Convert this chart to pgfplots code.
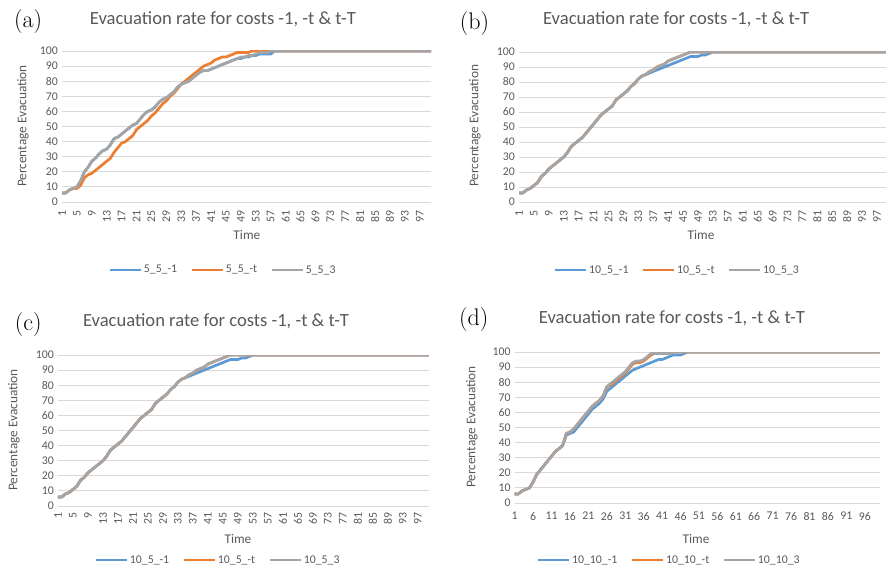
\documentclass[border=0pt]{standalone}
\usepackage{pgfplots}
\pgfplotsset{compat=1.18}
\usepackage{pgfplotstable}
\usepackage{fontspec}
\newfontfamily\calib{Carlito}
\definecolor{xblue}{HTML}{5B9BD5}
\definecolor{xorange}{HTML}{ED7D31}
\definecolor{xgray}{HTML}{A5A5A5}
\definecolor{txt}{HTML}{595959}
\definecolor{grd}{HTML}{D9D9D9}

\pgfplotstableread{
t m1 mt m3
1 6 6 6
2 6 6 6
3 8 8 8
4 9 9 9
5 10 9 10
6 14 11 14
7 20 16 20
8 23 18 23
9 27 19 27
10 29 21 29
11 32 23 32
12 34 25 34
13 35 27 35
14 38 29 38
15 42 33 42
16 43 36 43
17 45 39 45
18 47 40 47
19 49 42 49
20 51 44 51
21 52 48 52
22 55 50 55
23 58 52 58
24 60 54 60
25 61 57 61
26 63 59 63
27 66 62 66
28 68 65 68
29 69 67 69
30 71 70 71
31 73 72 73
32 76 75 76
33 78 78 78
34 79 80 79
35 80 82 80
36 82 84 82
37 84 86 84
38 86 88 86
39 87 90 87
40 87 91 87
41 88 92 88
42 89 94 89
43 90 95 90
44 91 96 91
45 92 96 92
46 93 97 93
47 94 98 94
48 95 99 95
49 95 99 96
50 96 99 96
51 96 99 97
52 97 100 97
53 97 100 98
54 98 100 99
55 98 100 99
56 98 100 99
57 98 100 100
58 100 100 100
59 100 100 100
60 100 100 100
70 100 100 100
80 100 100 100
90 100 100 100
100 100 100 100
}\tabA

\pgfplotstableread{
t m1 mt m3
1 6 6 6
2 6 6 6
3 8 8 8
4 9 9 9
5 11 11 11
6 13 13 13
7 17 17 17
8 19 19 19
9 22 22 22
10 24 24 24
11 26 26 26
12 28 28 28
13 30 30 30
14 33 33 33
15 37 37 37
16 39 39 39
17 41 41 41
18 43 43 43
19 46 46 46
20 49 49 49
21 52 52 52
22 55 55 55
23 58 58 58
24 60 60 60
25 62 62 62
26 64 64 64
27 68 68 68
28 70 70 70
29 72 72 72
30 74 74 74
31 77 77 77
32 79 79 79
33 82 82 82
34 84 84 84
35 85 85 85
36 86 87 87
37 87 88 88
38 88 90 90
39 89 91 91
40 90 92 92
41 91 94 94
42 92 95 95
43 93 96 96
44 94 97 97
45 95 98 98
46 96 99 99
47 97 100 100
48 97 100 100
49 97 100 100
50 98 100 100
51 98 100 100
52 99 100 100
53 100 100 100
54 100 100 100
60 100 100 100
70 100 100 100
80 100 100 100
90 100 100 100
100 100 100 100
}\tabB

\pgfplotstableread{
t m1 mt m3
1 6 6 6
2 6 6 6
3 8 8 8
4 9 9 9
5 10 10 10
6 14 14 14
7 19 19 19
8 22 22 22
9 25 25 25
10 28 28 28
11 31 31 31
12 34 34 34
13 36 36 36
14 38 38 38
15 45 46 46
16 46 47 47
17 47 49 49
18 50 52 52
19 53 55 55
20 56 58 58
21 59 61 61
22 62 64 64
23 64 66 66
24 66 68 68
25 69 71 71
26 74 77 77
27 76 78 79
28 78 80 81
29 80 82 83
30 82 84 85
31 84 86 87
32 86 89 90
33 88 92 93
34 89 93 94
35 90 93 94
36 91 94 95
37 92 96 97
38 93 98 99
39 94 99 99
40 95 99 99
41 95 99 99
42 96 99 99
43 97 100 99
44 98 100 100
45 98 100 100
46 98 100 100
47 99 100 100
48 100 100 100
49 100 100 100
50 100 100 100
60 100 100 100
70 100 100 100
80 100 100 100
90 100 100 100
100 100 100 100
}\tabD

\pgfplotsset{
  exc/.style={
    scale only axis, xmin=1, xmax=100, ymin=0, ymax=100,
    ytick={0,10,...,100},
    ymajorgrids, grid style={color=grd, line width=0.9pt},
    axis line style={draw=none}, major tick length=0pt,
    /pgf/number format/assume math mode=true,
    tick label style={font=\calib\fontsize{11.8}{13}\selectfont, text=txt},
    yticklabel style={anchor=east, inner xsep=4pt, inner ysep=0pt},
    every axis plot/.append style={line width=2.7pt, line join=round, mark=none},
    legend columns=3,
    legend style={draw=none, fill=none, font=\calib\fontsize{11.8}{13}\selectfont, text=txt, anchor=center, inner sep=0pt,
      /tikz/every even column/.append style={column sep=11pt}},
    legend image code/.code={\draw[##1, line width=2.7pt] (0pt,0pt) -- (31pt,0pt);},
    title style={anchor=center, font=\calib\fontsize{18.6}{22}\selectfont, text=txt},
    xlabel style={anchor=center, font=\calib\fontsize{13.3}{15}\selectfont, text=txt},
    ylabel style={anchor=center, font=\calib\fontsize{13.3}{15}\selectfont, text=txt},
    title={Evacuation rate for costs -1, -t \& t-T},
    xlabel={Time}, ylabel={Percentage Evacuation},
  },
  rot/.style={xtick={1,5,...,97}, xticklabel style={rotate=90, anchor=east, inner xsep=#1, inner ysep=0pt}},
}

\begin{document}
\begin{tikzpicture}
\useasboundingbox (0pt,0pt) rectangle (886pt,568pt);

% (a)
\begin{axis}[exc, rot=8pt, at={(62pt,366pt)}, anchor=south west, width=369pt, height=151pt,
  title style={at={(axis description cs:0.436,1.172)}},
  xlabel style={at={(axis description cs:0.501,-0.219)}},
  ylabel style={at={(axis description cs:-0.106,0.503)}},
  legend style={at={(axis description cs:0.436,-0.450)}},
  extra description/.code={\node[font=\fontsize{24}{28}\selectfont] at (axis description cs:-0.092,1.192) {(a)};}]
\addplot[xblue] table[x=t,y=m1] {\tabA};
\addplot[xorange] table[x=t,y=mt] {\tabA};
\addplot[xgray] table[x=t,y=m3] {\tabA};
\addlegendentry{5\_5\_-1}
\addlegendentry{5\_5\_-t}
\addlegendentry{5\_5\_3}
\end{axis}

% (b)
\begin{axis}[exc, rot=8pt, at={(519pt,366pt)}, anchor=south west, width=367pt, height=150pt, xmax=99.42,
  title style={at={(axis description cs:0.428,1.18)}},
  xlabel style={at={(axis description cs:0.496,-0.22)}},
  ylabel style={at={(axis description cs:-0.120,0.507)}},
  legend style={at={(axis description cs:0.431,-0.453)}},
  extra description/.code={\node[font=\fontsize{24}{28}\selectfont] at (axis description cs:-0.121,1.187) {(b)};}]
\addplot[xblue] table[x=t,y=m1] {\tabB};
\addplot[xorange] table[x=t,y=mt] {\tabB};
\addplot[xgray] table[x=t,y=m3] {\tabB};
\addlegendentry{10\_5\_-1}
\addlegendentry{10\_5\_-t}
\addlegendentry{10\_5\_3}
\end{axis}

% (c)
\begin{axis}[exc, rot=6pt, at={(58pt,62pt)}, anchor=south west, width=371pt, height=151pt,
  title style={at={(axis description cs:0.426,1.185)}},
  xlabel style={at={(axis description cs:0.485,-0.219)}},
  ylabel style={at={(axis description cs:-0.119,0.503)}},
  legend style={at={(axis description cs:0.431,-0.358)}},
  extra description/.code={\node[font=\fontsize{24}{28}\selectfont] at (axis description cs:-0.080,1.205) {(c)};}]
\addplot[xblue] table[x=t,y=m1] {\tabB};
\addplot[xorange] table[x=t,y=mt] {\tabB};
\addplot[xgray] table[x=t,y=m3] {\tabB};
\addlegendentry{10\_5\_-1}
\addlegendentry{10\_5\_-t}
\addlegendentry{10\_5\_3}
\end{axis}

% (d)
\begin{axis}[exc, at={(514.7pt,65pt)}, anchor=south west, width=364.8pt, height=151pt,
  xtick={1,6,...,96}, xticklabel style={anchor=north, inner ysep=9pt},
  title style={at={(axis description cs:0.431,1.185)}},
  xlabel style={at={(axis description cs:0.497,-0.238)}},
  ylabel style={at={(axis description cs:-0.117,0.503)}},
  legend style={at={(axis description cs:0.423,-0.377)}},
  extra description/.code={\node[font=\fontsize{24}{28}\selectfont] at (axis description cs:-0.112,1.212) {(d)};}]
\addplot[xblue] table[x=t,y=m1] {\tabD};
\addplot[xorange] table[x=t,y=mt] {\tabD};
\addplot[xgray] table[x=t,y=m3] {\tabD};
\addlegendentry{10\_10\_-1}
\addlegendentry{10\_10\_-t}
\addlegendentry{10\_10\_3}
\end{axis}
\end{tikzpicture}
\end{document}
